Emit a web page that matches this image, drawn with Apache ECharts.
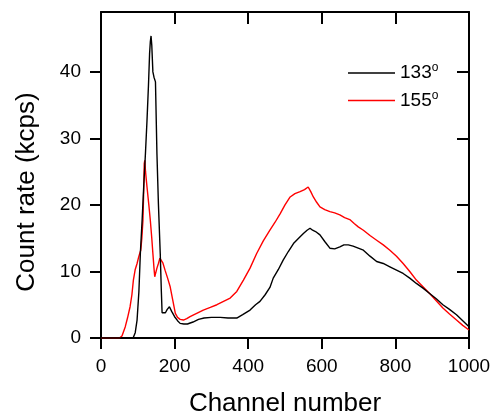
<!DOCTYPE html>
<html>
<head>
<meta charset="utf-8">
<script src="https://cdn.jsdelivr.net/npm/echarts@6/dist/echarts.min.js"></script>
<style>
html,body{margin:0;padding:0;background:#fff;}
#chart{width:492px;height:417px;}
</style>
</head>
<body>
<div id="chart"></div>
<script>
var xTicks = [0, 200, 400, 600, 800, 1000];
var yTicks = [0, 10, 20, 30, 40];
var seriesNames = ['133', '155'];

var blackCh = [0,80,88,93,98,103,107,112,116,121,125,129,132,134,136,138,141,144,148,152,156,161,164,166,170,175,180,186,192,200,208,215,225,235,250,265,280,300,324,345,369,385,405,420,432,446,459,468,482,495,509,523,537,550,560,568,575,583,595,608,622,635,649,660,672,685,699,713,731,749,767,785,803,821,839,857,875,893,911,929,947,966,983,1000];
var blackVal = [0,0,0.1,0.8,2.7,7,12.8,18,22.7,28,32.7,38,42.7,44.5,45.4,44,40,39.2,38.5,27.7,20.2,12.7,7,3.8,3.5,3.8,4.3,4.7,4.0,3.2,2.6,2.2,2.1,2.1,2.4,2.8,3.0,3.1,3.1,3.0,3.0,3.5,4.2,5.0,5.5,6.5,7.6,9.0,10.3,11.7,13.0,14.2,15.0,15.7,16.2,16.5,16.2,16.0,15.5,14.5,13.5,13.4,13.7,14.0,14.0,13.8,13.5,13.2,12.3,11.5,11.2,10.7,10.2,9.7,9.0,8.2,7.5,6.7,5.9,5.0,4.3,3.5,2.6,1.7];

var redCh = [0,50,57,66,72,79,84,88,93,98,103,108,111,114,116,117.5,119,121,125,130,134,138,141,144,146,149,152,156,160,163,168,174,181,188,195,202,208,215,224,233,242,260,278,297,315,333,351,369,387,405,423,441,459,473,487,500,514,527,541,553,563,570,577,586,595,608,622,635,649,662,676,688,699,713,731,749,767,785,803,821,839,857,875,893,911,929,947,966,983,1000];
var redVal = [0,0,0.3,1.7,3,4.7,6.5,8.7,10.3,11.2,12.3,13.2,15,17.7,22,26.2,26.7,25,22.7,20,17.7,15,12.7,10.5,9.2,9.5,10.5,11.2,12.0,12.1,11.3,10.2,9,7.7,5.7,3.7,3.1,2.8,2.7,2.9,3.2,3.7,4.2,4.6,5.0,5.5,6.0,7.0,8.7,10.5,12.7,14.6,16.2,17.4,18.7,20,21.2,21.7,22.0,22.3,22.7,22,21.2,20.4,19.7,19.3,19.0,18.8,18.5,18.1,17.8,17.2,16.7,16.2,15.4,14.7,14.0,13.2,12.3,11.2,10.0,8.7,7.7,6.7,5.6,4.5,3.6,2.7,1.9,1.2];

function pairs(xs, ys) {
  var out = [];
  for (var i = 0; i < xs.length; i++) out.push([xs[i], ys[i]]);
  return out;
}
function isIn(list, v) {
  for (var i = 0; i < list.length; i++) if (Math.abs(list[i] - v) < 1e-6) return true;
  return false;
}

var FONT = 'Liberation Sans';
var chart = echarts.init(document.getElementById('chart'), null, {renderer: 'canvas'});

function axisLine() { return {show: true, onZero: false, lineStyle: {color: '#000', width: 2}}; }
function hiddenSplit() { return {show: true, lineStyle: {color: 'rgba(0,0,0,0)', width: 0}}; }

var option = {
  animation: false,
  backgroundColor: '#fff',
  grid: {left: 101, right: 23, top: 12, bottom: 79, containLabel: false, outerBoundsMode: 'none'},
  legend: {
    show: true,
    orient: 'vertical',
    left: 343,
    top: 57,
    icon: 'rect',
    itemWidth: 47,
    itemHeight: 1.5,
    itemGap: 7,
    data: seriesNames,
    formatter: function (n) { return '{a|' + n + '}{s|o}'; },
    textStyle: {
      color: '#000',
      fontFamily: FONT,
      fontSize: 19,
      rich: {
        a: {fontSize: 19, fontFamily: FONT, color: '#000'},
        s: {fontSize: 12, fontFamily: FONT, color: '#000', padding: [0, 0, 10, 0]}
      }
    }
  },
  xAxis: [
    {
      type: 'value', min: 0, max: 1000, interval: 200,
      name: 'Channel number', nameLocation: 'middle', nameGap: 53,
      nameTextStyle: {fontFamily: FONT, fontSize: 26, color: '#000'},
      axisLine: axisLine(),
      axisTick: {show: true, inside: false, length: 11, lineStyle: {color: '#000', width: 2}},
      axisLabel: {fontFamily: FONT, fontSize: 19, color: '#000', margin: 19,
        formatter: function (v) { return isIn(xTicks, v) ? String(v) : ''; }},
      splitLine: hiddenSplit()
    },
    {
      type: 'value', min: 0, max: 1000, interval: 200, position: 'top',
      axisLine: axisLine(),
      axisTick: {show: true, inside: true, length: 12, lineStyle: {color: '#000', width: 2}},
      axisLabel: {show: false},
      splitLine: hiddenSplit()
    }
  ],
  yAxis: [
    {
      type: 'value', min: 0, max: 49, interval: 10,
      name: 'Count rate (kcps)', nameLocation: 'middle', nameGap: 61,
      nameTextStyle: {fontFamily: FONT, fontSize: 26, color: '#000', padding: [0, 34, 0, 0]},
      axisLine: axisLine(),
      axisTick: {show: true, inside: false, length: 11, lineStyle: {color: '#000', width: 2}},
      axisLabel: {fontFamily: FONT, fontSize: 19, color: '#000', margin: 20, showMaxLabel: false,
        formatter: function (v) { return isIn(yTicks, v) ? String(v) : ''; }},
      splitLine: hiddenSplit()
    },
    {
      type: 'value', min: 0, max: 49, interval: 10, position: 'right',
      axisLine: axisLine(),
      axisTick: {show: true, inside: true, length: 12, lineStyle: {color: '#000', width: 2}},
      axisLabel: {show: false, showMaxLabel: false},
      splitLine: hiddenSplit()
    }
  ],
  series: [
    {
      name: seriesNames[0], type: 'line', xAxisIndex: 0, yAxisIndex: 0,
      data: pairs(blackCh, blackVal),
      showSymbol: false, symbol: 'none',
      lineStyle: {color: '#000', width: 1.4},
      itemStyle: {color: '#000'},
      z: 3
    },
    {
      name: seriesNames[1], type: 'line', xAxisIndex: 0, yAxisIndex: 0,
      data: pairs(redCh, redVal),
      showSymbol: false, symbol: 'none',
      lineStyle: {color: '#ff0000', width: 1.4},
      itemStyle: {color: '#ff0000'},
      z: 2
    },
    {
      name: 'frame', type: 'line', xAxisIndex: 1, yAxisIndex: 1,
      data: [], silent: true
    }
  ]
};
chart.setOption(option);
</script>
</body>
</html>
